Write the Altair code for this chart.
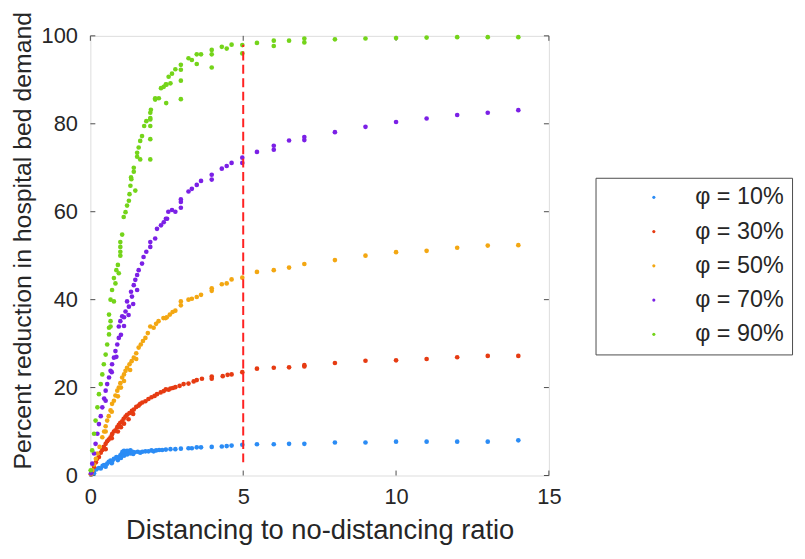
import altair as alt
import pandas as pd

SERIES = ["φ = 10%", "φ = 30%", "φ = 50%", "φ = 70%", "φ = 90%"]
COLORS = ["#2b8cf5", "#e63b12", "#f3a712", "#7b20e6", "#74d41a"]

X_TICKS = [0, 5, 10, 15]
Y_TICKS = [0, 20, 40, 60, 80, 100]

# phi = 10%
blue_x = [0.02, 0.06, 0.12, 0.12, 0.2, 0.28, 0.34, 0.4, 0.45, 0.5, 0.55, 0.6, 0.66, 0.7, 0.72, 0.77,
          0.85, 0.9, 0.9, 0.98, 1.0, 1.02, 1.05, 1.08, 1.1, 1.1, 1.15, 1.2, 1.2, 1.25, 1.3, 1.31, 1.38,
          1.4, 1.45, 1.55, 1.63, 1.7, 1.8, 1.9, 2.0, 2.07, 2.15, 2.25, 2.35, 2.47, 2.62, 2.78, 2.96,
          3.21, 3.32, 3.48, 3.62, 3.97, 4.3, 4.46, 4.62, 4.97, 5.45, 6, 6.5, 7, 8, 9, 10, 11, 12, 13, 14]
blue_y = [0.2, 0.8, 0.5, 1.2, 1.4, 1.7, 1.6, 2.2, 2.4, 2.0, 2.7, 3.1, 3.4, 2.8, 3.3, 3.8,
          4.2, 4.0, 3.5, 4.6, 4.0, 4.9, 5.4, 5.2, 4.5, 5.6, 5.3, 5.6, 4.8, 5.5, 5.0, 5.7, 5.4,
          4.9, 5.3, 5.4, 5.2, 5.4, 5.5, 5.5, 5.7, 5.5, 5.7, 5.8, 5.8, 5.9, 6.0, 6.0, 6.1,
          6.2, 6.2, 6.4, 6.4, 6.5, 6.6, 6.7, 6.8, 7.0, 7.1, 7.1, 7.2, 7.2, 7.5, 7.5, 7.7, 7.7, 7.7, 7.7, 8.0]

# phi = 30%
red_x = [0.02, 0.06, 0.12, 0.18, 0.22, 0.28, 0.34, 0.39, 0.44, 0.5, 0.5, 0.55, 0.6, 0.66, 0.7, 0.71,
         0.77, 0.82, 0.88, 0.9, 0.93, 0.98, 1.0, 1.04, 1.09, 1.1, 1.15, 1.2, 1.25, 1.28, 1.36, 1.4,
         1.42, 1.5, 1.58, 1.63, 1.7, 1.8, 1.9, 2.0, 2.1, 2.18, 2.3, 2.4, 2.47, 2.56, 2.62, 2.7, 2.78,
         2.92, 3.05, 3.21, 3.38, 3.48, 3.65, 3.97, 3.97, 4.33, 4.49, 4.62, 4.97, 5.45, 6, 6.5, 7, 7,
         8, 9, 10, 11, 12, 13, 14]
red_y = [0.3, 1.0, 2.0, 3.0, 3.8, 4.2, 5.2, 5.8, 6.5, 7.2, 6.0, 7.8, 8.2, 8.7, 8.5, 9.4,
         10.0, 10.3, 11.0, 10.0, 11.5, 12.0, 11.0, 12.3, 12.9, 11.8, 13.4, 13.8, 12.8, 14.2, 14.7, 14.0,
         15.0, 15.6, 15.9, 16.3, 16.6, 16.9, 17.4, 17.8, 18.1, 18.5, 18.9, 19.2, 19.6, 19.5, 19.8, 19.9, 20.1,
         20.4, 20.8, 20.9, 21.4, 21.7, 22.0, 22.5, 22.0, 22.6, 22.9, 23.0, 23.5, 24.3, 24.5, 24.6, 25.1, 24.8,
         25.6, 26.1, 26.2, 26.5, 26.9, 27.2, 27.2]

# phi = 50%
orange_x = [0.02, 0.06, 0.12, 0.18, 0.23, 0.3, 0.39, 0.45, 0.5, 0.5, 0.55, 0.6, 0.66, 0.7, 0.71, 0.77,
            0.82, 0.88, 0.9, 0.93, 0.98, 1.0, 1.04, 1.1, 1.1, 1.15, 1.2, 1.28, 1.3, 1.35, 1.42, 1.5, 1.5,
            1.58, 1.65, 1.72, 1.8, 1.88, 1.96, 2.07, 2.15, 2.23, 2.39, 2.46, 2.5, 2.6, 2.69, 2.78, 2.96,
            2.96, 3.21, 3.32, 3.48, 3.62, 3.97, 3.97, 4.3, 4.46, 4.62, 4.97, 5.45, 6, 6.5, 7, 8, 9, 10,
            11, 12, 13, 14]
orange_y = [0.3, 1.2, 2.5, 3.8, 5.0, 6.5, 8.7, 10.0, 11.2, 10.0, 12.5, 13.5, 14.8, 14.5, 16.3, 17.0,
            18.2, 19.3, 18.0, 20.0, 21.0, 20.0, 22.3, 23.0, 21.5, 23.8, 24.5, 25.3, 24.0, 26.0, 26.8, 27.8, 26.5,
            29.1, 29.8, 30.6, 31.3, 32.4, 33.9, 33.6, 34.5, 35.1, 35.8, 35.8, 36.0, 36.6, 37.2, 37.5, 38.7,
            39.6, 40.0, 40.2, 40.6, 41.1, 42.0, 42.6, 43.5, 43.7, 44.6, 45.0, 46.3, 46.7, 47.3, 48.1, 49.0, 50.0, 50.8,
            51.1, 51.8, 52.3, 52.4]

# phi = 70%
purple_x = [0.02, 0.06, 0.12, 0.17, 0.23, 0.28, 0.34, 0.39, 0.45, 0.5, 0.5, 0.55, 0.61, 0.66, 0.7, 0.71,
            0.77, 0.82, 0.85, 0.88, 0.93, 0.93, 0.98, 1.0, 1.04, 1.1, 1.1, 1.15, 1.2, 1.25, 1.26, 1.33,
            1.36, 1.4, 1.42, 1.47, 1.53, 1.53, 1.58, 1.69, 1.74, 1.83, 1.96, 1.96, 2.12, 2.18, 2.31, 2.4,
            2.47, 2.51, 2.55, 2.67, 2.78, 2.96, 2.96, 2.96, 3.21, 3.32, 3.48, 3.62, 3.97, 3.97, 4.3, 4.46,
            4.62, 4.97, 4.97, 5.45, 6, 6, 6.5, 7, 7, 8, 9, 10, 11, 12, 13, 14]
purple_y = [0.5, 2.7, 5.0, 7.2, 9.5, 11.7, 13.5, 15.5, 17.5, 19.3, 17.0, 20.8, 22.3, 23.8, 23.5, 25.3,
            26.8, 28.3, 27.0, 29.8, 31.3, 33.9, 35.1, 32.0, 36.2, 36.0, 34.0, 37.3, 39.6, 36.5, 38.4, 41.8,
            40.7, 39.0, 43.3, 44.5, 45.6, 42.2, 46.7, 48.2, 49.7, 50.9, 52.0, 53.1, 53.9, 56.1, 56.9, 57.6,
            58.4, 58.4, 60.0, 60.4, 60.0, 60.9, 62.2, 62.8, 64.6, 65.2, 66.1, 67.0, 67.3, 68.4, 69.8, 70.4,
            71.1, 71.1, 72.3, 73.6, 74.1, 75.0, 76.2, 76.3, 77.0, 78.1, 79.3, 80.4, 81.2, 82.0, 82.5, 83.1]

# phi = 90%
green_x = [0.01, 0.06, 0.12, 0.17, 0.23, 0.28, 0.34, 0.39, 0.44, 0.5, 0.55, 0.61, 0.61, 0.66, 0.66, 0.61,
           0.66, 0.77, 0.71, 0.82, 0.77, 0.93, 0.85, 0.9, 0.98, 0.98, 0.98, 0.98, 1.04, 1.09, 1.15, 1.2,
           1.26, 1.28, 1.47, 1.31, 1.34, 1.33, 1.42, 1.42, 1.63, 1.96, 1.53, 1.53, 1.58, 1.63, 1.96, 1.69,
           1.76, 1.96, 1.83, 1.96, 1.96, 1.96, 1.98, 2.24, 2.48, 2.12, 2.12, 2.31, 2.47, 2.40, 2.49, 2.62,
           2.56, 2.67, 2.78, 2.96, 2.96, 2.96, 2.96, 3.21, 3.32, 3.48, 3.48, 3.62, 3.97, 3.97, 3.97, 4.3,
           4.46, 4.62, 4.97, 4.97, 5.45, 6, 6, 6.5, 7, 7, 8, 9, 10, 11, 12, 13, 14]
green_y = [1.2, 5.7, 9.5, 12.5, 15.5, 18.5, 20.8, 23.0, 25.3, 27.5, 29.8, 32.1, 33.6, 33.9, 35.1, 36.6,
           40.0, 39.6, 42.2, 43.7, 44.9, 46.0, 46.7, 47.9, 50.0, 50.9, 52.0, 53.1, 54.8, 58.8, 59.9, 61.4,
           62.5, 64.0, 64.8, 65.9, 67.4, 67.8, 69.1, 70.0, 71.9, 71.9, 72.5, 73.4, 74.6, 76.1, 76.5, 77.2,
           79.5, 79.5, 80.6, 81.0, 81.3, 82.5, 83.2, 85.8, 84.7, 85.5, 85.8, 88.1, 89.0, 88.4, 88.9, 89.2,
           90.7, 91.4, 92.4, 85.6, 89.8, 92.3, 93.4, 94.9, 94.5, 93.6, 95.8, 95.8, 92.8, 95.8, 96.8, 97.5,
           97.1, 98.0, 96.0, 97.9, 98.4, 97.7, 98.9, 98.9, 98.5, 99.4, 99.2, 99.4, 99.5, 99.6, 99.7, 99.7, 99.7]

CUTOFF_X = [5]
CUTOFF_Y0 = [3]
CUTOFF_Y1 = [98]

series_xy = [(blue_x, blue_y), (red_x, red_y), (orange_x, orange_y), (purple_x, purple_y), (green_x, green_y)]
rows = []
for name, (xs, ys) in zip(SERIES, series_xy):
    for xv, yv in zip(xs, ys):
        rows.append({"x": xv, "y": yv, "series": name})
df = pd.DataFrame(rows)

W, H = 462, 443
XDOM, YDOM = [0, 15], [0, 100]
TICK_PX = 5
tx = TICK_PX * (XDOM[1] - XDOM[0]) / W
ty = TICK_PX * (YDOM[1] - YDOM[0]) / H

FONT = "Liberation Sans"
TXT = "#262626"
FRAME = "#4d4d4d"

xscale = alt.Scale(domain=XDOM, nice=False)
yscale = alt.Scale(domain=YDOM, nice=False)

xaxis = alt.Axis(values=X_TICKS, title="Distancing to no-distancing ratio", grid=False, domain=False,
                 ticks=False, labelFontSize=22, titleFontSize=27.5, labelPadding=11, titlePadding=9,
                 labelFlush=False,
                 labelColor=TXT, titleColor=TXT, titleFontWeight="normal", labelFont=FONT, titleFont=FONT)
yaxis = alt.Axis(values=Y_TICKS, title="Percent reduction in hospital bed demand", grid=False, domain=False,
                 ticks=False, labelFontSize=22, titleFontSize=25, labelPadding=13, titlePadding=6,
                 titleY=206, labelFlush=False,
                 labelColor=TXT, titleColor=TXT, titleFontWeight="normal", labelFont=FONT, titleFont=FONT)

points = alt.Chart(df).mark_circle(size=22, opacity=1).encode(
    x=alt.X("x:Q", scale=xscale, axis=xaxis),
    y=alt.Y("y:Q", scale=yscale, axis=yaxis),
    color=alt.Color("series:N", scale=alt.Scale(domain=SERIES, range=COLORS), sort=SERIES,
                    legend=alt.Legend(title=None, orient="none", legendX=509, legendY=143,
                                      padding=8, rowPadding=9.5, strokeColor=FRAME, fillColor="white",
                                      symbolSize=10, symbolType="circle", symbolOffset=39, labelOffset=30,
                                      labelFontSize=23.5, labelFont=FONT, labelColor=TXT)),
    order=alt.Order("series:N"),
)

cut_df = pd.DataFrame({"x": CUTOFF_X, "y0": CUTOFF_Y0, "y1": CUTOFF_Y1})
cutoff = alt.Chart(cut_df).mark_rule(color="#ff2222", strokeDash=[9, 4.5], strokeWidth=2).encode(
    x=alt.X("x:Q", scale=xscale), y=alt.Y("y0:Q", scale=yscale), y2="y1:Q")

xt = pd.DataFrame({"v": X_TICKS})
yt = pd.DataFrame({"v": Y_TICKS})
tick_style = dict(color=FRAME, strokeWidth=1)
xt_bottom = alt.Chart(xt).mark_rule(**tick_style).encode(
    x=alt.X("v:Q", scale=xscale), y=alt.datum(YDOM[0]), y2=alt.datum(YDOM[0] + ty))
xt_top = alt.Chart(xt).mark_rule(**tick_style).encode(
    x=alt.X("v:Q", scale=xscale), y=alt.datum(YDOM[1] - ty), y2=alt.datum(YDOM[1]))
yt_left = alt.Chart(yt).mark_rule(**tick_style).encode(
    y=alt.Y("v:Q", scale=yscale), x=alt.datum(XDOM[0]), x2=alt.datum(XDOM[0] + tx))
yt_right = alt.Chart(yt).mark_rule(**tick_style).encode(
    y=alt.Y("v:Q", scale=yscale), x=alt.datum(XDOM[1] - tx), x2=alt.datum(XDOM[1]))

chart = alt.layer(xt_bottom, xt_top, yt_left, yt_right, points, cutoff).properties(
    width=W, height=H,
    autosize=alt.AutoSizeParams(type="none"),
    padding={"left": 83, "top": 26, "right": 250, "bottom": 74},
).configure_view(stroke=FRAME, strokeWidth=1).configure(background="white")

chart.save("out.html", embed_options={"renderer": "svg", "actions": False})
